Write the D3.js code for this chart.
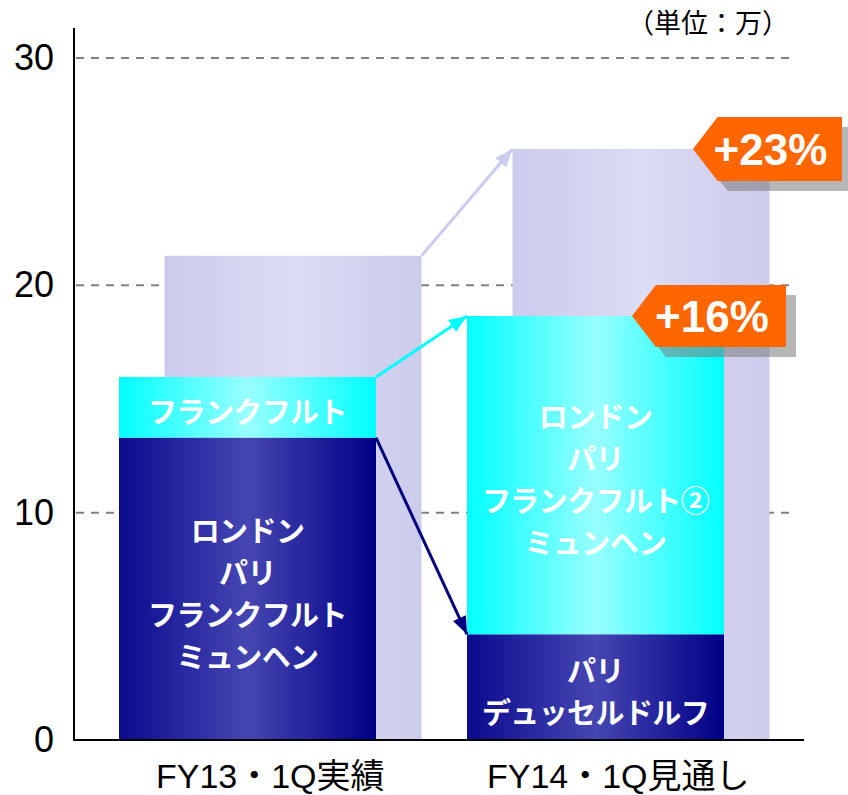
<!DOCTYPE html>
<html><head><meta charset="utf-8">
<script src="https://cdn.jsdelivr.net/npm/d3@7"></script>
<style>body{margin:0;background:#fff}svg{display:block}</style>
</head><body>
<svg id="c" width="848" height="795"></svg>
<script>
const categories = ["FY13・1Q実績", "FY14・1Q見通し"];
const totalVals = [21.3, 26.0];
const lowerVals = [13.3, 4.65];
const upperVals = [2.67, 14.0];
const lowerLabels = [["ロンドン","パリ","フランクフルト","ミュンヘン"], ["パリ","デュッセルドルフ"]];
const upperLabels = [["フランクフルト"], ["ロンドン","パリ","フランクフルト②","ミュンヘン"]];
const growthLabels = ["+23%", "+16%"];
const yTicks = [0, 10, 20, 30];
const unitLabel = "（単位：万）";

const svg = d3.select("#c");
const y = d3.scaleLinear().domain([0, 30]).range([740, 58]);
const x = d3.scaleBand().domain(categories).range([119, 724]).paddingInner(0.2615).paddingOuter(0);
const backOff = 45.5;
const bw = x.bandwidth();
const jp = "'Noto Sans CJK JP', sans-serif";
const lat = "'Liberation Sans', Arial, 'Noto Sans CJK JP', sans-serif";

const defs = svg.append("defs");
function grad(id, edge, mid, edge2) {
  const g = defs.append("linearGradient").attr("id", id).attr("x1", 0).attr("x2", 1).attr("y1", 0).attr("y2", 0);
  g.append("stop").attr("offset", "0%").attr("stop-color", edge);
  g.append("stop").attr("offset", "50%").attr("stop-color", mid);
  g.append("stop").attr("offset", "100%").attr("stop-color", edge2);
}
grad("gNavy", "#0a0a8e", "#4646b2", "#000086");
grad("gCyan", "#00ffff", "#99ffff", "#00ffff");
grad("gLav", "#cbcbec", "#dcdcf4", "#cbcbec");
function marker(id, color) {
  defs.append("marker").attr("id", id).attr("viewBox", "0 0 10 10").attr("refX", 10).attr("refY", 5)
    .attr("markerWidth", 6).attr("markerHeight", 6).attr("markerUnits", "strokeWidth").attr("orient", "auto")
    .append("path").attr("d", "M0,1 L10,5 L0,9 Z").attr("fill", color);
}
marker("mNavy", "#000080");
marker("mCyan", "#00ffff");
marker("mLav", "#ccccee");

// gridlines
svg.append("g").selectAll("line").data(yTicks.filter(d => d > 0)).join("line")
  .attr("x1", 76).attr("x2", 795).attr("y1", d => y(d)).attr("y2", d => y(d))
  .attr("stroke", "#808080").attr("stroke-width", 2).attr("stroke-dasharray", "8,7");

// back bars (totals)
svg.append("g").selectAll("rect").data(categories).join("rect")
  .attr("x", d => x(d) + backOff).attr("width", bw)
  .attr("y", (d, i) => y(totalVals[i])).attr("height", (d, i) => y(0) - y(totalVals[i]))
  .attr("fill", "url(#gLav)");

// front lower
svg.append("g").selectAll("rect").data(categories).join("rect")
  .attr("x", d => x(d)).attr("width", bw)
  .attr("y", (d, i) => y(lowerVals[i])).attr("height", (d, i) => y(0) - y(lowerVals[i]))
  .attr("fill", "url(#gNavy)");
// front upper
svg.append("g").selectAll("rect").data(categories).join("rect")
  .attr("x", d => x(d)).attr("width", bw)
  .attr("y", (d, i) => y(lowerVals[i] + upperVals[i])).attr("height", (d, i) => y(lowerVals[i]) - y(lowerVals[i] + upperVals[i]))
  .attr("fill", "url(#gCyan)");

// arrows
const c0 = categories[0], c1 = categories[1];
const arrows = [
  {x1: x(c0) + backOff + bw, y1: y(totalVals[0]), x2: x(c1) + backOff, y2: y(totalVals[1]), m: "mLav", c: "#ccccee"},
  {x1: x(c0) + bw, y1: y(lowerVals[0] + upperVals[0]), x2: x(c1), y2: y(lowerVals[1] + upperVals[1]), m: "mCyan", c: "#00ffff"},
  {x1: x(c0) + bw, y1: y(lowerVals[0]), x2: x(c1), y2: y(lowerVals[1]), m: "mNavy", c: "#000080"}
];
svg.append("g").selectAll("line").data(arrows).join("line")
  .attr("x1", d => d.x1).attr("y1", d => d.y1).attr("x2", d => d.x2).attr("y2", d => d.y2)
  .attr("stroke", d => d.c).attr("stroke-width", 3).attr("marker-end", d => `url(#${d.m})`);

// bar labels
function block(lines, cx, cy, sp) {
  const n = lines.length;
  lines.forEach((t, k) => {
    svg.append("text").attr("x", cx).attr("y", cy + 3 + (k - (n - 1) / 2) * sp)
      .attr("text-anchor", "middle").attr("dominant-baseline", "central")
      .attr("font-family", jp).attr("font-weight", "bold").attr("font-size", 29)
      .attr("letter-spacing", "-0.6px")
      .attr("fill", "#fff").text(t);
  });
}
categories.forEach((c, i) => {
  const cx = x(c) + bw / 2;
  block(lowerLabels[i], cx, (y(0) + y(lowerVals[i])) / 2, 42);
  block(upperLabels[i], cx, (y(lowerVals[i]) + y(lowerVals[i] + upperVals[i])) / 2, 42);
});

// badges
const badges = [
  {lx: 693, top: 117, bot: 181, rx: 842, label: growthLabels[0]},
  {lx: 632, top: 285, bot: 347, rx: 786, label: growthLabels[1]}
];
badges.forEach(b => {
  const my = (b.top + b.bot) / 2, tip = b.lx + (b.bot - b.top) / 2.6;
  const pts = `${b.lx},${my} ${tip},${b.top} ${b.rx},${b.top} ${b.rx},${b.bot} ${tip},${b.bot}`;
  svg.append("polygon").attr("points", pts).attr("transform", "translate(10,10)").attr("fill", "#7a7a7a").attr("opacity", 0.55);
  svg.append("polygon").attr("points", pts).attr("fill", "#ff6600");
  svg.append("text").attr("x", (b.lx + b.rx) / 2 + 3).attr("y", my + 16)
    .attr("text-anchor", "middle").attr("font-family", lat).attr("font-weight", "bold")
    .attr("font-size", 44).attr("fill", "#fff").text(b.label);
});

// axes
svg.append("line").attr("x1", 74).attr("x2", 74).attr("y1", 28).attr("y2", 741).attr("stroke", "#000").attr("stroke-width", 2);
svg.append("line").attr("x1", 73).attr("x2", 804).attr("y1", 740).attr("y2", 740).attr("stroke", "#000").attr("stroke-width", 2);

const yAxis = svg.append("g").attr("transform", "translate(74,0)")
  .call(d3.axisLeft(y).tickValues(yTicks).tickSize(0).tickPadding(20).tickFormat(d3.format("d")));
yAxis.select(".domain").remove();
yAxis.selectAll("text").attr("font-family", lat).attr("font-size", 36).attr("fill", "#000");

const xAxis = svg.append("g").attr("transform", "translate(0,740)")
  .call(d3.axisBottom(d3.scaleBand().domain(categories).range([x(c0) + (bw + backOff) / 2 - 348 / 2, x(c1) + (bw + backOff) / 2 + 348 / 2])).tickSize(0).tickPadding(24));
xAxis.select(".domain").remove();
xAxis.selectAll("text").attr("font-family", lat).attr("font-size", 34).attr("fill", "#000").attr("dy", "0.71em");

svg.append("text").attr("x", 708).attr("y", 33).attr("text-anchor", "middle")
  .attr("font-family", jp).attr("font-size", 27).attr("fill", "#000").text(unitLabel);
</script>
</body></html>
